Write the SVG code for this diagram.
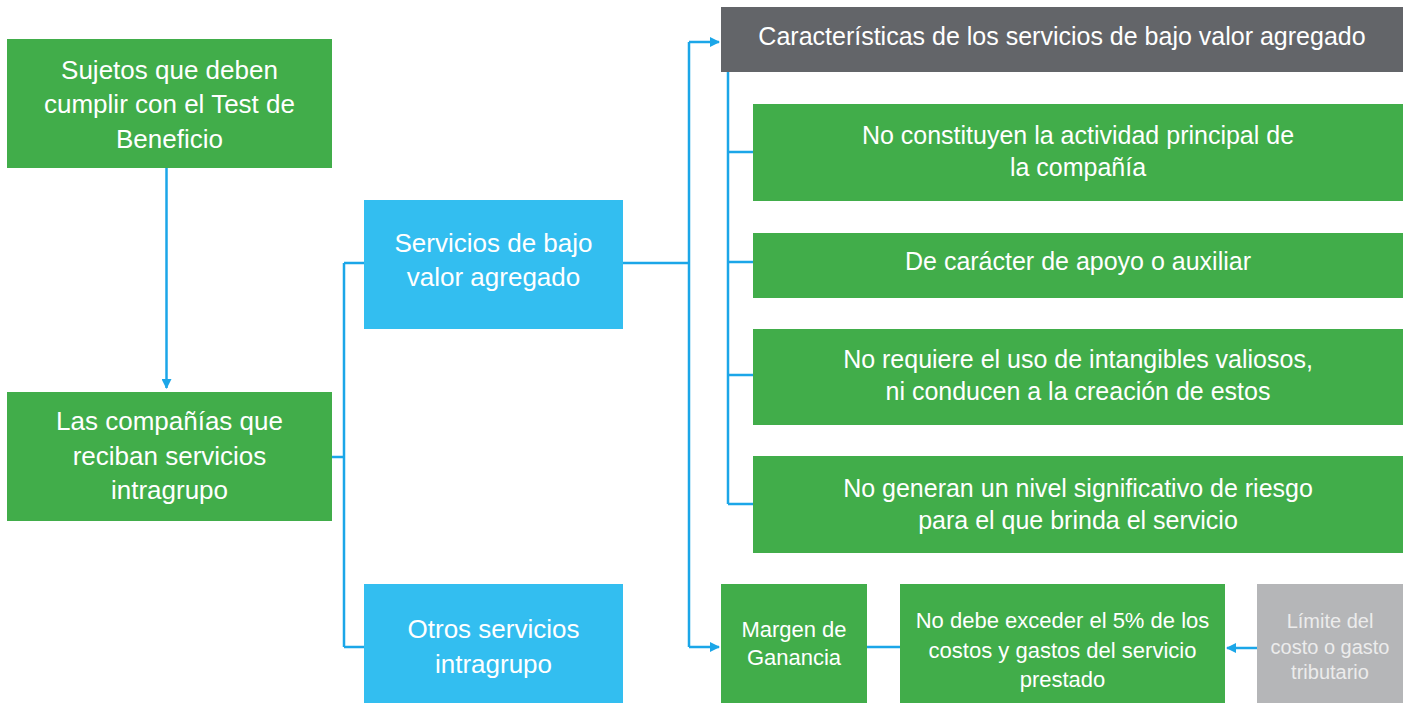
<svg xmlns="http://www.w3.org/2000/svg" width="1407" height="703" viewBox="0 0 1407 703">
<style>
.t{font-family:"Liberation Sans Narrow","Liberation Sans",Arial,sans-serif;fill:#ffffff;text-anchor:middle}
.g{fill:#41ad4a}
.b{fill:#33bef0}
.dk{fill:#636569}
.lg{fill:#b5b6b8}
.c{fill:none;stroke:#1ba6e8;stroke-width:2.5}
.lt{fill:#ececec}
</style>
<defs>
<marker id="ar" viewBox="0 0 10 10" refX="9" refY="5" markerWidth="4" markerHeight="4" orient="auto-start-reverse" markerUnits="strokeWidth">
<path d="M0,0 L10,5 L0,10 z" fill="#1ba6e8"/>
</marker>
</defs>
<rect width="1407" height="703" fill="#ffffff"/>
<g id="connectors">
<path class="c" d="M166.5,168 V388" marker-end="url(#ar)"/>
<path class="c" d="M332,457 H344 M344,263 V647 M344,263 H364 M344,647 H364"/>
<path class="c" d="M622,263 H689 M689,42 V647"/>
<path class="c" d="M689,42 H719" marker-end="url(#ar)"/>
<path class="c" d="M689,647 H719" marker-end="url(#ar)"/>
<path class="c" d="M728,72 V504 M728,152 H753 M728,262 H753 M728,375 H753 M728,504 H753"/>
<path class="c" d="M867,647 H900"/>
<path class="c" d="M1257,648 H1227" marker-end="url(#ar)"/>
</g>
<g id="sujetos">
<rect class="g" x="7" y="39" width="325" height="129"/>
<text class="t" font-size="26" x="169.5" y="79">Sujetos que deben</text>
<text class="t" font-size="26" x="169.5" y="113">cumplir con el Test de</text>
<text class="t" font-size="26" x="169.5" y="148">Beneficio</text>
</g>
<g id="companias">
<rect class="g" x="7" y="392" width="325" height="129"/>
<text class="t" font-size="26" x="169.5" y="430">Las compañías que</text>
<text class="t" font-size="26" x="169.5" y="465">reciban servicios</text>
<text class="t" font-size="26" x="169.5" y="499">intragrupo</text>
</g>
<g id="bajo-valor">
<rect class="b" x="364" y="200" width="259" height="129"/>
<text class="t" font-size="26" x="493.5" y="252">Servicios de bajo</text>
<text class="t" font-size="26" x="493.5" y="286">valor agregado</text>
</g>
<g id="otros">
<rect class="b" x="364" y="584" width="259" height="119"/>
<text class="t" font-size="26" x="493.5" y="638">Otros servicios</text>
<text class="t" font-size="26" x="493.5" y="673">intragrupo</text>
</g>
<g id="caracteristicas">
<rect class="dk" x="721" y="7" width="682" height="65"/>
<text class="t" font-size="25" x="1062" y="45">Características de los servicios de bajo valor agregado</text>
</g>
<g id="no-constituyen">
<rect class="g" x="753" y="104" width="650" height="97"/>
<text class="t" font-size="25" x="1078" y="144">No constituyen la actividad principal de</text>
<text class="t" font-size="25" x="1078" y="176">la compañía</text>
</g>
<g id="apoyo">
<rect class="g" x="753" y="233" width="650" height="65"/>
<text class="t" font-size="25" x="1078" y="270">De carácter de apoyo o auxiliar</text>
</g>
<g id="intangibles">
<rect class="g" x="753" y="329" width="650" height="96"/>
<text class="t" font-size="25" x="1078" y="368">No requiere el uso de intangibles valiosos,</text>
<text class="t" font-size="25" x="1078" y="400">ni conducen a la creación de estos</text>
</g>
<g id="riesgo">
<rect class="g" x="753" y="456" width="650" height="97"/>
<text class="t" font-size="25" x="1078" y="497">No generan un nivel significativo de riesgo</text>
<text class="t" font-size="25" x="1078" y="529">para el que brinda el servicio</text>
</g>
<g id="margen">
<rect class="g" x="721" y="584" width="146" height="119"/>
<text class="t" font-size="22" x="794" y="637">Margen de</text>
<text class="t" font-size="22" x="794" y="665">Ganancia</text>
</g>
<g id="exceder">
<rect class="g" x="900" y="584" width="325" height="119"/>
<text class="t" font-size="22" x="1062.5" y="628">No debe exceder el 5% de los</text>
<text class="t" font-size="22" x="1062.5" y="658">costos y gastos del servicio</text>
<text class="t" font-size="22" x="1062.5" y="687">prestado</text>
</g>
<g id="limite">
<rect class="lg" x="1257" y="584" width="146" height="119"/>
<text class="t lt" font-size="20" x="1330" y="628">Límite del</text>
<text class="t lt" font-size="20" x="1330" y="654">costo o gasto</text>
<text class="t lt" font-size="20" x="1330" y="679">tributario</text>
</g>
</svg>
